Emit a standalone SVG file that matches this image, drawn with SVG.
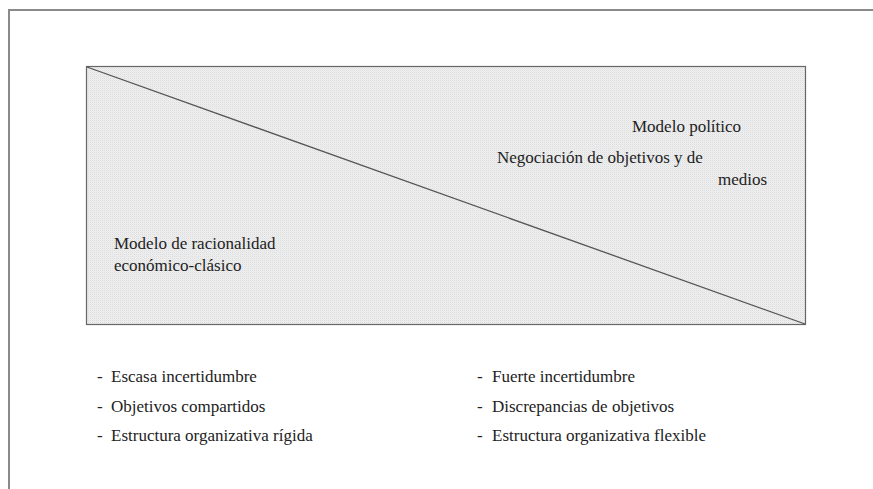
<svg xmlns="http://www.w3.org/2000/svg" width="873" height="489" viewBox="0 0 873 489">
<defs>
<pattern id="dots" width="2" height="2" patternUnits="userSpaceOnUse">
<rect width="2" height="2" fill="#f0f0f0"/>
<rect width="1" height="1" fill="#dcdcdc"/>
<rect x="1" y="1" width="1" height="1" fill="#e6e8ea"/>
</pattern>
</defs>
<style>
text{font-family:'Liberation Serif','Times New Roman',serif;font-size:17px;fill:#222}
.frame{stroke:#8a8a8a;stroke-width:2;fill:none}
</style>
<g id="frame">
<path class="frame" d="M9 489 V10 H873"/>
</g>
<g id="box">
<rect x="86.5" y="66.5" width="719" height="258" fill="url(#dots)" stroke="#666" stroke-width="1.2"/>
</g>
<g id="connectors">
<line x1="87" y1="67" x2="805" y2="324" stroke="#555" stroke-width="1.3"/>
</g>
<g id="political">
<text x="632" y="132">Modelo político</text>
<text x="497" y="163">Negociación de objetivos y de</text>
<text x="718" y="185">medios</text>
</g>
<g id="rational">
<text x="114" y="249">Modelo de racionalidad</text>
<text x="114" y="271">económico-clásico</text>
</g>
<g id="left-list">
<text x="97" y="382">-<tspan x="111">Escasa incertidumbre</tspan></text>
<text x="97" y="412">-<tspan x="111">Objetivos compartidos</tspan></text>
<text x="97" y="441">-<tspan x="111">Estructura organizativa rígida</tspan></text>
</g>
<g id="right-list">
<text x="477" y="382">-<tspan x="492">Fuerte incertidumbre</tspan></text>
<text x="477" y="412">-<tspan x="492">Discrepancias de objetivos</tspan></text>
<text x="477" y="441">-<tspan x="492">Estructura organizativa flexible</tspan></text>
</g>
</svg>
